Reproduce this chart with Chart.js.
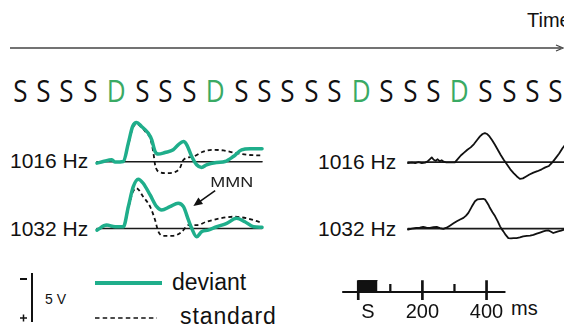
<!DOCTYPE html>
<html>
<head>
<meta charset="utf-8">
<script src="https://cdn.jsdelivr.net/npm/chart.js@4.4.0/dist/chart.umd.min.js"></script>
<style>
  html, body { margin: 0; padding: 0; background: #fff; }
  body { width: 564px; height: 326px; position: relative; overflow: hidden;
         font-family: "Liberation Sans", Arial, sans-serif; color: #111; }
  .txt { position: absolute; white-space: pre; line-height: 1; transform-origin: 0 50%; }
  canvas { position: absolute; }
  svg { position: absolute; left: 0; top: 0; }
  #seq { font-family: "Open Sans", sans-serif; font-size: 31px; letter-spacing: -0.85px; }
  #seq span { display: inline-block; transform: scaleX(0.84); }
  #seq .dev { color: #3aaa64; }
</style>
</head>
<body>
<svg width="564" height="326">
  <line x1="10" y1="48" x2="561" y2="48" stroke="#444" stroke-width="1.6"/>
  <path d="M556 45 L563 48 L556 51" fill="none" stroke="#444" stroke-width="1.3"/>
  <line x1="32" y1="273" x2="32" y2="322" stroke="#111" stroke-width="2"/>
  <line x1="20" y1="279" x2="27" y2="279" stroke="#111" stroke-width="2"/>
  <line x1="20" y1="318" x2="27" y2="318" stroke="#111" stroke-width="1.5"/>
  <line x1="23.5" y1="314.5" x2="23.5" y2="321.5" stroke="#111" stroke-width="1.5"/>
  <line x1="95" y1="283" x2="162" y2="283" stroke="#1fae8b" stroke-width="4"/>
  <line x1="95" y1="318" x2="157" y2="318" stroke="#111" stroke-width="1.6" stroke-dasharray="4.5 3.2"/>
</svg>

<div class="txt" style="left:527px;top:10px;font-size:20px">Time</div>
<div class="txt" id="seq" style="left:11.5px;top:75px"></div>

<div class="txt" style="left:10px;top:150px;font-size:21px">1016 Hz</div>
<div class="txt" style="left:10px;top:217.5px;font-size:21px">1032 Hz</div>
<div class="txt" style="left:318px;top:151px;font-size:21px">1016 Hz</div>
<div class="txt" style="left:318px;top:218px;font-size:21px">1032 Hz</div>

<div class="txt" style="left:45px;top:292px;font-size:14px">5 V</div>
<div class="txt" style="left:172px;top:271px;font-size:23px">deviant</div>
<div class="txt" style="left:180px;top:304.5px;font-size:23px;letter-spacing:0.9px">standard</div>
<div class="txt" style="left:511px;top:298px;font-size:20px">ms</div>

<canvas id="l1016" width="173" height="72" style="left:93px;top:109px"></canvas>
<canvas id="l1032" width="173" height="77" style="left:93px;top:166px"></canvas>
<canvas id="r1016" width="173" height="62" style="left:404px;top:124px"></canvas>
<canvas id="r1032" width="173" height="58" style="left:404px;top:190px"></canvas>
<canvas id="tscale" width="170" height="41" style="left:339px;top:280px"></canvas>

<script>
const TEAL = '#1fae8b';

// oddball sequence: S = standard, D = deviant
const sequence = ['S','S','S','S','D','S','S','S','D','S','S','S','S','S',
                  'D','S','S','S','D','S','S','S','S'];

// ERPs, time in ms, amplitude in µV (negative plotted up)
const dev1016T = [-50,-31,-5,5,30,45,58,70,85,105,116,126,136,156,181,196,212,222,237,252,267,282,313,338,363,388,414,450];
const dev1016V = [0.14,-0.03,-0.21,0.03,-0.03,-1.95,-3.68,-4.09,-3.68,-2.99,-2.29,-1.07,-0.8,-0.97,-1.25,-1.77,-2.11,-1.77,-0.55,0.31,0.59,0.31,0.07,-0.03,-0.55,-1.25,-1.35,-1.35];
const std1016T = [-50,-31,-5,5,30,45,58,70,85,100,111,121,126,136,161,186,201,212,242,272,302,333,363,404,450];
const std1016V = [0.14,-0.03,-0.21,0.03,-0.03,-1.8,-3.5,-3.95,-3.6,-3.0,-2.5,-0.94,0.31,1.01,1.18,1.07,0.66,-0.21,-0.55,-1.07,-1.25,-1.18,-0.97,-0.73,-0.66];

const dev1032T = [-50,-21,5,30,45,60,75,90,111,131,146,171,196,212,227,237,252,267,287,313,343,373,398,424,450];
const dev1032V = [0.16,-0.36,-0.19,-0.19,-2.27,-4.35,-5.13,-4.71,-3.49,-2.27,-1.93,-2.27,-2.63,-2.27,-0.89,-0.02,0.85,0.33,0.16,-0.19,-0.54,-1.06,-0.71,-0.19,-0.13];
const std1032T = [-50,-21,5,30,45,58,70,90,111,126,136,151,181,207,227,252,282,323,363,404,450];
const std1032V = [0.16,-0.3,-0.15,-0.15,-2.1,-3.75,-4.19,-3.31,-2.27,-0.89,0.33,0.75,0.75,0.33,-0.36,-0.36,-0.71,-1.06,-1.23,-1.06,-0.6];

// deviant minus standard difference waves
const diff1016T = [-50,-38,-28,-18,-8,2,10,16,22,28,34,40,46,52,58,66,80,92,100,110,120,130,140,150,160,168,176,183,190,197,205,213,222,231,240,250,260,270,280,289,298,308,318,330,342,355,366,377,388,398,408,418,428,440,455,470];
const diff1016V = [0.1,0.05,0.1,0.0,0.1,0.05,-0.1,-0.3,-0.5,-0.25,-0.15,-0.3,-0.1,-0.2,-0.05,0.02,0.02,0.02,-0.3,-0.7,-1.0,-1.3,-1.55,-1.9,-2.35,-2.7,-2.95,-3.05,-2.95,-2.7,-2.3,-1.85,-1.3,-0.75,-0.25,0.25,0.75,1.15,1.5,1.75,1.7,1.5,1.3,1.1,0.95,0.75,0.55,0.4,0.0,-0.45,-0.9,-1.45,-1.9,-2.15,-2.5,-2.7];
const diff1032T = [-50,-38,-25,-14,-4,6,17,27,37,47,57,67,77,88,98,108,118,126,133,138,143,148,153,160,168,178,184,189,194,198,206,214,222,229,234,239,246,254,262,270,279,289,299,310,320,330,340,350,360,368,375,382,390,398,405,414,423,440,455,470];
const diff1032V = [0.1,0.0,-0.07,-0.1,-0.18,-0.1,-0.07,-0.15,-0.18,-0.05,0.03,-0.1,-0.31,-0.55,-0.76,-0.95,-1.11,-1.35,-1.64,-1.95,-2.26,-2.55,-2.84,-3.02,-3.05,-3.09,-3.0,-2.74,-2.45,-2.16,-1.7,-1.28,-0.75,-0.24,0.05,0.28,0.65,0.97,1.0,0.97,0.97,0.9,0.8,0.75,0.73,0.65,0.52,0.4,0.28,0.2,0.18,0.3,0.45,0.35,0.28,0.2,0.1,0.05,0.05,0.05];

// MMN annotation (ms, µV)
const mmnLabel = [358, -4.84];
const mmnFrom = [308, -3.94];
const mmnTo = [242, -2.34];

// time scale bar
const stimDur = 60;
const majorTicks = [0, 200, 400];
const minorTicks = [100, 300];
const timeLabelAt = [stimDur / 2, 200, 400];
const timeLabelText = ['S', '200', '400'];

// sequence row
document.getElementById('seq').innerHTML = sequence
  .map(c => '<span' + (c === 'D' ? ' class="dev"' : '') + '>' + c + '</span>').join(' ');

function pts(t, v) { return t.map((x, i) => ({ x: x, y: v[i] })); }
function zeroLine(a, b) { return [{ x: a, y: 0 }, { x: b, y: 0 }]; }

function erp(id, datasets, yMin, yMax, extra) {
  return new Chart(document.getElementById(id), {
    type: 'line',
    data: { datasets: datasets },
    options: {
      responsive: false, animation: false, events: [],
      layout: { padding: 0 },
      scales: {
        x: { type: 'linear', min: -62, max: 462, display: false },
        y: { type: 'linear', min: yMin, max: yMax, reverse: true, display: false }
      },
      elements: {
        point: { radius: 0 },
        line: { cubicInterpolationMode: 'monotone', borderCapStyle: 'round', borderJoinStyle: 'round' }
      },
      plugins: { legend: { display: false }, tooltip: { enabled: false } }
    },
    plugins: extra ? [extra] : []
  });
}

function deviant(t, v) { return { data: pts(t, v), borderColor: TEAL, borderWidth: 3.5, order: 0 }; }
function standard(t, v) { return { data: pts(t, v), borderColor: '#111', borderWidth: 1.8, borderDash: [4, 3], borderCapStyle: 'butt', order: 1 }; }
function base(a, b) { return { data: zeroLine(a, b), borderColor: '#1a1a1a', borderWidth: 1.6, order: 2 }; }
function diff(t, v) { return { data: pts(t, v), borderColor: '#111', borderWidth: 1.8, tension: 0, cubicInterpolationMode: 'default', order: 0 }; }

const mmnNote = {
  id: 'mmnNote',
  afterDatasetsDraw(chart) {
    const { ctx, scales: { x, y } } = chart;
    const x0 = x.getPixelForValue(mmnFrom[0]), y0 = y.getPixelForValue(mmnFrom[1]);
    const x1 = x.getPixelForValue(mmnTo[0]), y1 = y.getPixelForValue(mmnTo[1]);
    const a = Math.atan2(y1 - y0, x1 - x0);
    ctx.save();
    ctx.strokeStyle = '#111'; ctx.fillStyle = '#111'; ctx.lineWidth = 1.6;
    ctx.beginPath();
    ctx.moveTo(x0, y0);
    ctx.lineTo(x1 - 6 * Math.cos(a), y1 - 6 * Math.sin(a));
    ctx.stroke();
    ctx.beginPath();
    ctx.moveTo(x1, y1);
    ctx.lineTo(x1 - 9 * Math.cos(a) + 4 * Math.sin(a), y1 - 9 * Math.sin(a) - 4 * Math.cos(a));
    ctx.lineTo(x1 - 9 * Math.cos(a) - 4 * Math.sin(a), y1 - 9 * Math.sin(a) + 4 * Math.cos(a));
    ctx.closePath();
    ctx.fill();
    ctx.translate(x.getPixelForValue(mmnLabel[0]), y.getPixelForValue(mmnLabel[1]));
    ctx.scale(1.2, 1);
    ctx.font = '15px "Liberation Sans", Arial, sans-serif';
    ctx.textAlign = 'center'; ctx.textBaseline = 'middle';
    ctx.fillStyle = '#222';
    ctx.fillText('MMN', 0, 1);
    ctx.restore();
  }
};

erp('l1016', [deviant(dev1016T, dev1016V), standard(std1016T, std1016V), base(-50, 450)], -5.5, 2.0);
erp('l1032', [deviant(dev1032T, dev1032V), standard(std1032T, std1032V), base(-50, 450)], -6.5, 1.5, mmnNote);
erp('r1016', [diff(diff1016T, diff1016V), base(-50, 470)], -4, 2.5);
erp('r1032', [diff(diff1032T, diff1032V), base(-50, 470)], -4, 2);

// time scale: axis line, stimulus block, tick marks, labels
new Chart(document.getElementById('tscale'), {
  type: 'line',
  data: {
    datasets: [
      { data: zeroLine(-50, 459), borderColor: '#111', borderWidth: 2, pointRadius: 0 },
      { data: [{ x: 0, y: 1 }, { x: stimDur, y: 1 }], borderColor: '#111', borderWidth: 1,
        backgroundColor: '#111', fill: 'origin', pointRadius: 0 },
      { type: 'bar', data: majorTicks.map(v => ({ x: v, y: [-0.67, 1] })), backgroundColor: '#111',
        barThickness: 2, grouped: false, borderWidth: 0 },
      { type: 'bar', data: minorTicks.map(v => ({ x: v, y: [0, 0.67] })), backgroundColor: '#111',
        barThickness: 1.6, grouped: false, borderWidth: 0 }
    ]
  },
  options: {
    responsive: false, animation: false, events: [],
    layout: { padding: 0 },
    scales: {
      x: {
        type: 'linear', min: -60, max: 470, offset: false,
        grid: { display: false, drawTicks: false }, border: { display: false },
        afterBuildTicks: s => { s.ticks = timeLabelAt.map(v => ({ value: v })); },
        ticks: {
          autoSkip: false, maxRotation: 0, padding: 0, color: '#111',
          font: { family: '"Liberation Sans", Arial, sans-serif', size: 20 },
          callback: v => timeLabelText[timeLabelAt.indexOf(v)]
        }
      },
      y: { type: 'linear', min: -0.75, max: 1.05, display: false }
    },
    plugins: { legend: { display: false }, tooltip: { enabled: false } }
  }
});
</script>
</body>
</html>
